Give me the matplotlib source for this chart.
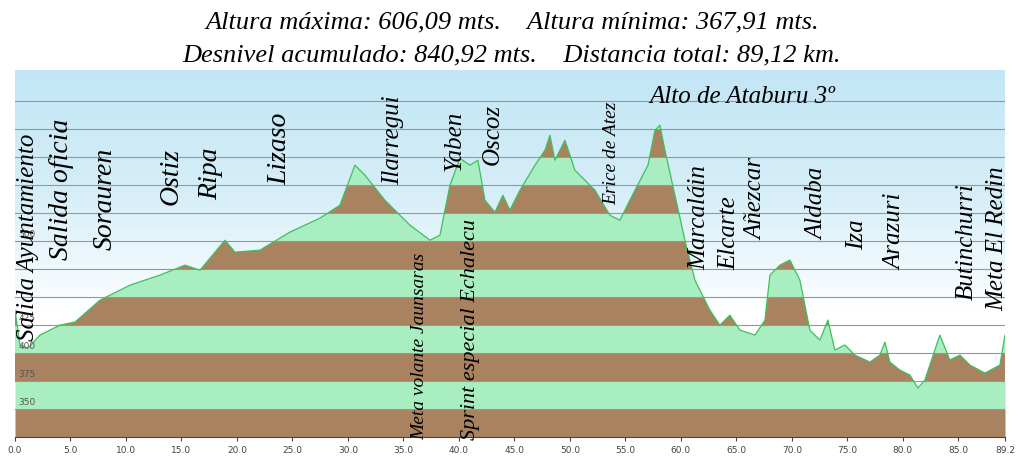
import numpy as np
import matplotlib
matplotlib.use("Agg")
import matplotlib.pyplot as plt

km = [0.0,0.45,1.17,2.25,4.05,5.4,7.66,10.36,13.06,15.32,16.67,18.92,19.82,22.07,24.77,27.48,29.28,30.63,31.53,33.33,
      35.59,37.39,38.29,38.74,39.19,40.09,40.99,41.71,42.34,43.24,43.96,44.59,45.5,46.85,47.75,48.2,48.65,49.55,50.45,
      52.25,53.6,54.5,55.86,57.03,57.66,58.11,58.56,59.46,60.36,61.26,62.61,63.51,64.41,65.32,66.67,67.57,68.02,68.92,
      69.82,70.72,71.62,72.52,73.24,73.87,74.77,75.68,77.03,77.93,78.38,78.83,79.73,80.63,81.35,81.98,82.88,83.33,84.23,
      85.14,86.04,87.39,88.74,89.2]
elev = [438.4,407.2,404.5,416.1,425.0,427.7,447.3,460.7,469.7,478.6,474.1,500.9,490.2,492.0,508.1,520.6,532.2,567.9,559.0,536.6,
        514.3,500.9,505.4,527.7,550.0,574.1,567.9,572.4,536.6,525.9,541.1,527.7,545.6,567.9,581.3,594.7,572.4,590.2,563.4,
        545.6,523.2,518.8,545.6,567.9,599.1,603.6,581.3,541.1,500.9,465.2,438.4,425.0,433.9,420.5,416.1,429.5,469.7,478.6,
        483.1,465.2,420.5,411.6,429.5,402.7,407.2,398.2,392.0,398.2,409.8,392.0,384.8,380.4,368.8,375.9,402.7,416.1,393.8,
        398.2,389.3,382.1,389.3,416.1]

x_ticks = [0,5,10,15,20,25,30,35,40,45,50,55,60,65,70,75,80,85,89.2]
x_tick_labels = ["0.0","5.0","10.0","15.0","20.0","25.0","30.0","35.0","40.0","45.0","50.0","55.0","60.0","65.0",
                 "70.0","75.0","80.0","85.0","89.2"]
y_label_vals = [350,375,400,425,500]

places = ["Salida Ayuntamiento","Salida oficia","Sorauren","Ostiz","Ripa","Lizaso","Ilarregui",
          "Meta volante Jaunsaras","Yaben","Sprint especial Echalecu","Oscoz","Erice de Atez",
          "Marcaláin","Elcarte","Añezcar","Aldaba","Iza","Arazuri","Butinchurri","Meta El Redin"]
place_km = [1.17,4.23,8.1,14.1,17.6,23.9,34.05,36.5,39.6,41.0,43.0,53.8,61.7,64.4,66.8,72.3,75.9,79.3,85.8,88.5]
place_base = [411,483,492,532,537,550,550,322,563,322,568,532,474,474,501,501,492,474,447,438]
place_size = [18,20,20,20,20,20,18,14,18,16,18,14,18,18,18,18,18,18,18,18]

title1 = "Altura máxima: 606,09 mts.    Altura mínima: 367,91 mts."
title2 = "Desnivel acumulado: 840,92 mts.    Distancia total: 89,12 km."

fig = plt.figure(figsize=(10.24,4.66), dpi=100)
ax = fig.add_axes([15/1024, 1-437/466, 990/1024, 367/466])
ymin, ymax = 325, 653
ax.set_xlim(0, 89.2); ax.set_ylim(ymin, ymax)

grad = np.linspace(0, 1, 256).reshape(-1, 1)
from matplotlib.colors import LinearSegmentedColormap
cm = LinearSegmentedColormap.from_list("sky", ["#ffffff", "#ffffff", "#d6eef8", "#c2e6f5"])
ax.imshow(grad, extent=[0, 89.2, ymin, ymax], origin="lower", aspect="auto", cmap=cm, zorder=0)

kmA = np.array(km); eA = np.array(elev)
xf = np.linspace(0, 89.2, 3000)
ef = np.interp(xf, kmA, eA)
brown = "#a9825f"; green = "#a8eec0"
levels = np.arange(325, 650, 25)
for i, lo in enumerate(levels):
    hi = lo + 25
    top = np.clip(ef, lo, hi)
    ax.fill_between(xf, lo, top, where=ef > lo, color=brown if i % 2 == 0 else green, lw=0, zorder=1)
for lv in levels[1:]:
    ax.axhline(lv, color="#8f9aa0", lw=0.8, zorder=2)
ax.plot(kmA, eA, color="#3fbf5f", lw=0.9, zorder=3)

for v in y_label_vals:
    ax.text(0.3, v + 2, str(v), fontsize=6.5, color="#555555", va="bottom", ha="left", zorder=4)

ax.set_xticks(x_ticks)
ax.set_xticklabels(x_tick_labels, fontsize=6.5, color="#444444")
ax.set_yticks([])
ax.tick_params(axis="x", length=3, color="#444444")
for s in ["top", "right", "left"]:
    ax.spines[s].set_visible(False)
ax.spines["bottom"].set_color("#444444")

for name, xk, yb, fs in zip(places, place_km, place_base, place_size):
    ax.text(xk, yb, name, rotation=90, ha="center", va="bottom", fontsize=fs,
            family="Liberation Serif", style="italic", zorder=5, clip_on=False)
ax.text(57.2, 628.6, "Alto de Ataburu 3º", fontsize=18, family="Liberation Serif", style="italic",
        va="center", ha="left", zorder=5)

fig.text(0.5, 1-22/466, title1, ha="center", va="center", fontsize=19, family="Liberation Serif", style="italic")
fig.text(0.5, 1-55/466, title2, ha="center", va="center", fontsize=19, family="Liberation Serif", style="italic")

fig.savefig("out.png", dpi=100)
